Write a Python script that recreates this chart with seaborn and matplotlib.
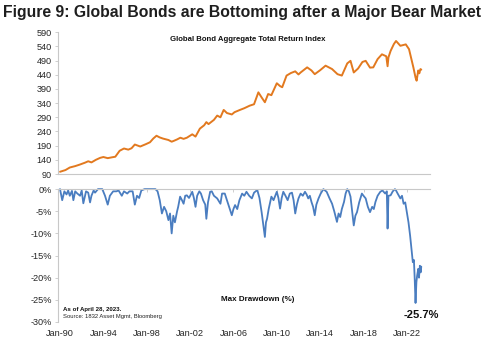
import matplotlib
matplotlib.use("Agg")
import matplotlib.pyplot as plt
import seaborn as sns
import pandas as pd

sns.set_theme(style="white")
plt.rcParams["font.family"] = ["Liberation Sans", "DejaVu Sans"]

# Global bond aggregate total return index (decimal year, index level)
index_years = [1990.0, 1990.5, 1990.9, 1991.4, 1991.8, 1992.3, 1992.6, 1992.9, 1993.3, 1993.7,
               1994.0, 1994.4, 1994.8, 1995.1, 1995.5, 1995.9, 1996.3, 1996.6, 1996.9, 1997.4,
               1997.9, 1998.3, 1998.6, 1998.9, 1999.2, 1999.5, 2000.0, 2000.3, 2000.5, 2000.8,
               2001.1, 2001.4, 2001.7, 2002.2, 2002.5, 2002.9, 2003.3, 2003.5, 2003.7, 2004.2,
               2004.5, 2004.8, 2005.1, 2005.4, 2005.85, 2006.1, 2006.6, 2007.0, 2007.5, 2007.9,
               2008.3, 2008.6, 2008.9, 2009.2, 2009.5, 2010.0, 2010.3, 2010.5, 2010.9, 2011.3,
               2011.7, 2012.0, 2012.2, 2012.8, 2013.2, 2013.5, 2014.0, 2014.5, 2015.1, 2015.6,
               2016.0, 2016.5, 2016.8, 2017.1, 2017.5, 2017.9, 2018.2, 2018.6, 2018.9, 2019.3,
               2019.7, 2020.1, 2020.22, 2020.3, 2020.5, 2020.8, 2021.0, 2021.4, 2021.9, 2022.2,
               2022.45, 2022.6, 2022.8, 2022.9, 2023.05, 2023.15, 2023.25, 2023.33]
index_values = [98, 104, 113, 118, 123, 130, 135, 131, 140, 147,
                150, 146, 149, 151, 172, 180, 176, 181, 194, 187,
                195, 202, 215, 225, 219, 215, 210, 204, 207, 212,
                218, 214, 218, 230, 222, 250, 262, 273, 266, 281,
                296, 290, 316, 305, 300, 308, 316, 322, 331, 336,
                378, 360, 343, 372, 368, 410, 400, 396, 437, 446,
                452, 441, 448, 466, 455, 442, 456, 472, 460, 442,
                437, 480, 489, 448, 462, 485, 489, 465, 466, 495,
                512, 505, 470, 501, 524, 548, 559, 542, 547, 530,
                490, 466, 430, 419, 455, 445, 460, 458]

# Maximum drawdown of the index from its running peak (decimal year, %)
dd_years = [1990.0, 1990.2, 1990.4, 1990.6, 1990.75, 1990.9, 1991.1, 1991.23, 1991.4, 1991.6,
            1991.85, 1992.0, 1992.15, 1992.4, 1992.6, 1992.77, 1992.9, 1993.1, 1993.23, 1993.5,
            1993.9, 1994.15, 1994.4, 1994.6, 1994.9, 1995.2, 1995.4, 1995.7, 1995.9, 1996.2,
            1996.4, 1996.7, 1996.9, 1997.1, 1997.3, 1997.5, 1997.8, 1998.3, 1998.8, 1999.0,
            1999.2, 1999.4, 1999.6, 1999.8, 2000.0, 2000.15, 2000.3, 2000.45, 2000.6, 2000.8,
            2000.9, 2001.08, 2001.25, 2001.4, 2001.55, 2001.7, 2001.9, 2002.2, 2002.35, 2002.5,
            2002.65, 2002.85, 2003.0, 2003.2, 2003.4, 2003.5, 2003.65, 2003.85, 2004.0, 2004.2,
            2004.5, 2004.8, 2004.95, 2005.2, 2005.4, 2005.6, 2005.85, 2006.0, 2006.15, 2006.35,
            2006.55, 2006.8, 2007.0, 2007.2, 2007.45, 2007.7, 2007.9, 2008.2, 2008.4, 2008.6,
            2008.75, 2008.9, 2009.0, 2009.1, 2009.25, 2009.5, 2009.7, 2010.0, 2010.15, 2010.3,
            2010.45, 2010.6, 2010.8, 2011.0, 2011.2, 2011.4, 2011.55, 2011.7, 2011.85, 2012.0,
            2012.2, 2012.4, 2012.6, 2012.75, 2012.9, 2013.05, 2013.2, 2013.35, 2013.5, 2013.65,
            2013.85, 2014.05, 2014.3, 2014.6, 2014.85, 2015.1, 2015.3, 2015.45, 2015.55, 2015.7,
            2015.85, 2016.0, 2016.2, 2016.35, 2016.5, 2016.65, 2016.8, 2016.95, 2017.1, 2017.25,
            2017.4, 2017.6, 2017.85, 2018.0, 2018.2, 2018.4, 2018.6, 2018.8, 2018.95, 2019.1,
            2019.3, 2019.55, 2019.75, 2020.0, 2020.15, 2020.22, 2020.3, 2020.5, 2020.7, 2020.9,
            2021.0, 2021.15, 2021.4, 2021.55, 2021.7, 2021.85, 2022.0, 2022.15, 2022.3, 2022.45,
            2022.55, 2022.65, 2022.72, 2022.8, 2022.88, 2022.95, 2023.05, 2023.12, 2023.2, 2023.27,
            2023.33]
dd_values = [0.0, -2.5, -0.5, -1.2, -0.3, -1.5, -0.4, -2.5, -0.5, -1.0,
             -1.5, -0.3, -3.2, -0.5, -0.8, -3.0, -1.5, -0.3, -0.8, 0.0,
             0.0, -1.5, -3.5, -1.5, -0.5, -0.5, -0.3, -1.5, -0.5, -1.0,
             -0.5, -0.5, -3.5, -1.5, -2.0, -0.3, 0.0, 0.0, 0.0, -0.5,
             -2.5, -5.5, -4.0, -5.0, -7.0, -5.5, -10.0, -6.0, -7.5, -5.0,
             -4.0, -1.7, -2.5, -3.3, -1.5, -1.4, -2.0, -0.6, -2.0, -4.0,
             -1.5, -0.5, -1.0, -2.5, -3.5, -6.7, -3.0, -0.6, -0.5, -1.5,
             -2.1, -3.3, -1.0, -1.0, -2.5, -4.0, -5.9, -4.5, -3.6, -4.5,
             -2.5, -1.0, -1.5, -0.6, -1.5, -2.1, -0.8, -0.2, -2.0, -5.2,
             -8.0, -10.8, -7.5, -6.7, -4.5, -1.7, -2.5, -0.6, -2.0, -4.4,
             -2.0, -0.6, -1.5, -2.5, -1.0, -0.8, -2.5, -5.5, -3.5, -2.1,
             -1.0, -1.5, -0.6, -1.2, -2.1, -1.5, -2.9, -4.0, -5.9, -3.5,
             -2.1, -1.0, 0.0, -0.6, -2.0, -3.3, -5.0, -6.5, -7.4, -5.5,
             -6.3, -4.5, -2.9, -1.0, 0.0, -0.5, -1.7, -5.0, -8.2, -6.0,
             -5.2, -3.0, -1.0, -1.5, -2.1, -4.0, -5.2, -4.0, -4.5, -2.9,
             -1.5, -0.6, -0.3, -1.0, -0.5, -8.9, -1.5, -1.4, -0.5, 0.0,
             -0.3, -1.0, -2.1, -1.5, -3.3, -3.0, -5.2, -7.5, -10.5, -14.0,
             -16.5, -16.0, -20.0, -25.7, -21.0, -19.5, -18.0, -20.0, -17.3, -18.8,
             -17.5]

tick_years = [1990, 1994, 1998, 2002, 2006, 2010, 2014, 2018, 2022]
tick_labels = ["Jan-90", "Jan-94", "Jan-98", "Jan-02", "Jan-06", "Jan-10", "Jan-14", "Jan-18", "Jan-22"]
index_ticks = list(range(90, 591, 50))
dd_ticks = list(range(-30, 1, 5))

ORANGE = "#E2791F"
BLUE = "#4A7DC0"
SPINE = "#C8C8C8"
TEXT = "#262626"
XLIM = (1989.82, 2024.16)

idx_df = pd.DataFrame({"year": index_years, "value": index_values})
dd_df = pd.DataFrame({"year": dd_years, "drawdown": dd_values})

fig = plt.figure(figsize=(4.84, 3.46), dpi=100)
ax1 = fig.add_axes([0.120, 0.497, 0.769, 0.410])
ax2 = fig.add_axes([0.120, 0.0694, 0.769, 0.384])

# Upper panel: total return index
sns.lineplot(data=idx_df, x="year", y="value", ax=ax1, color=ORANGE, linewidth=1.4)
ax1.set_xlim(*XLIM)
ax1.set_ylim(90, 590)
ax1.set_yticks(index_ticks)
ax1.set_yticklabels([str(t) for t in index_ticks])
ax1.set_xticks([])
ax1.set_xlabel("")
ax1.set_ylabel("")
for side in ("top", "right"):
    ax1.spines[side].set_visible(False)
for side in ("left", "bottom"):
    ax1.spines[side].set_color(SPINE)
    ax1.spines[side].set_linewidth(0.8)
ax1.tick_params(axis="y", which="both", left=True, length=2.5, width=0.6, color=SPINE,
                labelsize=6.6, labelcolor=TEXT, pad=2)
ax1.text(0.51, 0.95, "Global Bond Aggregate Total Return Index", transform=ax1.transAxes,
         ha="center", va="center", fontsize=5.6, fontweight="bold", color="#111111")

# Lower panel: maximum drawdown
sns.lineplot(data=dd_df, x="year", y="drawdown", ax=ax2, color=BLUE, linewidth=1.3)
for ln in ax2.lines:
    ln.set_clip_on(False)
ax2.set_xlim(*XLIM)
ax2.set_ylim(-30, 0)
ax2.set_yticks(dd_ticks)
ax2.set_yticklabels([f"{t}%" for t in dd_ticks])
ax2.set_xticks(tick_years)
ax2.set_xticklabels(tick_labels)
ax2.set_xlabel("")
ax2.set_ylabel("")
ax2.spines["bottom"].set_visible(False)
ax2.spines["right"].set_visible(False)
for side in ("left", "top"):
    ax2.spines[side].set_color(SPINE)
    ax2.spines[side].set_linewidth(0.8)
ax2.tick_params(axis="x", top=True, bottom=False, labeltop=False, labelbottom=True,
                direction="in", length=2.5, width=0.6, color=SPINE,
                labelsize=6.6, labelcolor=TEXT, pad=5)
ax2.tick_params(axis="y", left=True, length=2.5, width=0.6, color=SPINE,
                labelsize=6.6, labelcolor=TEXT, pad=2)
ax2.text(0.535, 0.17, "Max Drawdown (%)", transform=ax2.transAxes,
         ha="center", va="center", fontsize=5.8, fontweight="bold", color="#111111")
ax2.text(0.012, 0.095, "As of April 28, 2023.", transform=ax2.transAxes,
         ha="left", va="center", fontsize=4.4, fontweight="bold", color="#111111")
ax2.text(0.012, 0.04, "Source: 1832 Asset Mgmt, Bloomberg", transform=ax2.transAxes,
         ha="left", va="center", fontsize=4.2, color="#222222")
trough = min(dd_values)
trough_year = dd_years[dd_values.index(trough)]
ax2.annotate(f"{trough:.1f}%", xy=(trough_year, trough), xytext=(trough_year + 0.55, -28.4),
             ha="center", va="center", fontsize=8.0, fontweight="bold", color="#111111")

fig.text(0.006, 0.963, "Figure 9: Global Bonds are Bottoming after a Major Bear Market",
         ha="left", va="center", fontsize=11.35, fontweight="bold", color="#1E1E1E")

fig.savefig("out.png", dpi=100, facecolor="white")
